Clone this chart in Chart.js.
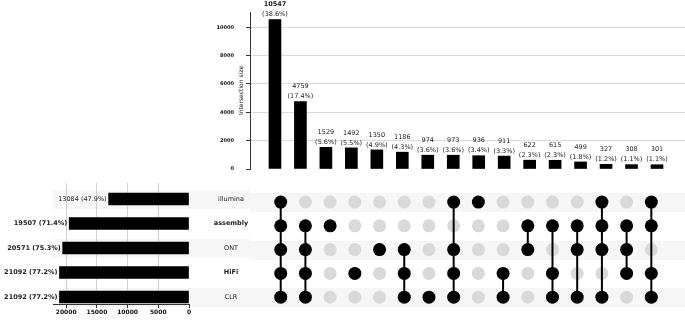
<!DOCTYPE html>
<html>
<head>
<meta charset="utf-8">
<script src="https://cdn.jsdelivr.net/npm/chart.js@4.4.0/dist/chart.umd.min.js"></script>
<style>
  body { margin: 0; background: #fff; }
  #wrap { position: relative; width: 685px; height: 325px; overflow: hidden; }
  canvas { position: absolute; }
</style>
</head>
<body>
<div id="wrap">
  <canvas id="top" width="685" height="180" style="left:0;top:0"></canvas>
  <canvas id="sets" width="250" height="145" style="left:0;top:180px"></canvas>
  <canvas id="matrix" width="435" height="145" style="left:250px;top:180px"></canvas>
</div>
<script>
// set names, top to bottom
var setNames = ['illumina', 'assembly', 'ONT', 'HiFi', 'CLR'];
var setSizes = [13084, 19507, 20571, 21092, 21092];

// intersections, left to right
var interSizes = [10547, 4759, 1529, 1492, 1350, 1186, 974, 973, 936, 911, 622, 615, 499, 327, 308, 301];
var interSets = [
  ['illumina', 'assembly', 'ONT', 'HiFi', 'CLR'],
  ['assembly', 'ONT', 'HiFi', 'CLR'],
  ['assembly'],
  ['HiFi'],
  ['ONT'],
  ['ONT', 'HiFi', 'CLR'],
  ['CLR'],
  ['illumina', 'ONT', 'HiFi', 'CLR'],
  ['illumina'],
  ['HiFi', 'CLR'],
  ['assembly', 'ONT'],
  ['assembly', 'HiFi', 'CLR'],
  ['assembly', 'ONT', 'CLR'],
  ['illumina', 'assembly', 'ONT', 'CLR'],
  ['assembly', 'ONT', 'HiFi'],
  ['illumina', 'assembly', 'HiFi', 'CLR']
];

var interTicks = [0, 2000, 4000, 6000, 8000, 10000];
var setTicks = [0, 5000, 10000, 15000, 20000];

var total = interSizes.reduce(function(a, b) { return a + b; }, 0);

Chart.defaults.font.family = '"DejaVu Sans", sans-serif';
Chart.defaults.color = '#222';

var FONT = '"DejaVu Sans", sans-serif';
var BAND = '#f6f6f6';
var bandRows = [0, 2, 4];

function pct(v) {
  return '(' + (v / total * 100).toFixed(1) + '%)';
}
function plain(v) { return String(v); }

// ---- intersection size bars (top) ----
var topLabels = {
  id: 'topLabels',
  afterDatasetsDraw: function(chart) {
    var ctx = chart.ctx;
    var meta = chart.getDatasetMeta(0);
    ctx.save();
    ctx.fillStyle = '#222';
    ctx.textAlign = 'center';
    ctx.textBaseline = 'middle';
    meta.data.forEach(function(bar, i) {
      ctx.font = (i === 0 ? 'bold ' : '') + '6.5px ' + FONT;
      ctx.fillText(String(interSizes[i]), bar.x, bar.y - 15);
      ctx.font = '6.5px ' + FONT;
      ctx.fillText(pct(interSizes[i]), bar.x, bar.y - 5);
    });
    // y title
    ctx.translate(241, (chart.chartArea.top + chart.chartArea.bottom) / 2);
    ctx.rotate(-Math.PI / 2);
    ctx.font = '6px ' + FONT;
    ctx.fillStyle = '#111';
    ctx.fillText('Intersection size', 0, 0);
    ctx.restore();
  }
};

new Chart(document.getElementById('top'), {
  type: 'bar',
  data: {
    datasets: [{
      data: interSizes.map(function(v, i) { return { x: i, y: v }; }),
      backgroundColor: '#000',
      barThickness: 12
    }]
  },
  options: {
    responsive: false,
    animation: false,
    devicePixelRatio: 1,
    events: [],
    layout: { padding: { top: 12, bottom: 11, left: 0, right: 0 } },
    plugins: { legend: { display: false }, tooltip: { enabled: false } },
    scales: {
      x: { type: 'linear', min: -0.98, max: 16.1, offset: false, display: false },
      y: {
        min: 0,
        max: 11074,
        afterFit: function(s) { s.width = 250; s.paddingTop = 0; s.paddingBottom = 0; },
        afterBuildTicks: function(s) { s.ticks = interTicks.map(function(v) { return { value: v }; }); },
        grid: {
          color: function(c) { return c.tick && c.tick.value === 0 ? 'rgba(0,0,0,0)' : '#dadada'; },
          tickColor: '#333',
          tickLength: 4
        },
        border: { color: '#333', width: 1 },
        ticks: { padding: 12, color: '#111', callback: plain, font: { size: 5, weight: 'bold' } }
      }
    }
  },
  plugins: [topLabels]
});

// ---- set size bars (left) ----
var setDecor = {
  id: 'setDecor',
  beforeDraw: function(chart) {
    var ctx = chart.ctx;
    var y = chart.scales.y;
    ctx.save();
    ctx.fillStyle = BAND;
    bandRows.forEach(function(r) {
      var py = Math.round(y.getPixelForValue(r));
      ctx.fillRect(53, py - 9, chart.width - 53, 19);
    });
    ctx.restore();
  },
  afterDatasetsDraw: function(chart) {
    var ctx = chart.ctx;
    var meta = chart.getDatasetMeta(0);
    ctx.save();
    ctx.fillStyle = '#222';
    ctx.textBaseline = 'middle';
    meta.data.forEach(function(bar, i) {
      ctx.textAlign = 'right';
      ctx.font = (i === 0 ? '' : 'bold ') + '6.5px ' + FONT;
      ctx.fillText(setSizes[i] + ' ' + pct(setSizes[i]), bar.x - 2, bar.y);
      ctx.textAlign = 'center';
      ctx.font = (i === 1 || i === 3 ? 'bold ' : '') + '6.5px ' + FONT;
      ctx.fillText(setNames[i], 231, bar.y);
    });
    ctx.restore();
  }
};

new Chart(document.getElementById('sets'), {
  type: 'bar',
  data: {
    datasets: [{
      data: setSizes.map(function(v, i) { return { x: v, y: i }; }),
      backgroundColor: '#000',
      barThickness: 12
    }]
  },
  options: {
    indexAxis: 'y',
    responsive: false,
    animation: false,
    devicePixelRatio: 1,
    events: [],
    layout: { padding: { top: 3, bottom: 0, left: 53, right: 61 } },
    plugins: { legend: { display: false }, tooltip: { enabled: false } },
    scales: {
      y: { type: 'linear', min: -0.653, max: 4.286, reverse: true, offset: false, display: false },
      x: {
        type: 'linear',
        min: 0,
        max: 22147,
        reverse: true,
        afterFit: function(s) { s.height = 21; },
        afterBuildTicks: function(s) { s.ticks = setTicks.map(function(v) { return { value: v }; }); },
        grid: {
          color: function(c) { return c.tick && c.tick.value === 0 ? 'rgba(0,0,0,0)' : '#cfcfcf'; },
          tickColor: '#333',
          tickLength: 4
        },
        border: { color: '#333', width: 1 },
        ticks: { padding: 1, color: '#111', maxRotation: 0, callback: plain, font: { size: 6, weight: 'bold' } }
      }
    }
  },
  plugins: [setDecor]
});

// ---- membership matrix ----
var greyDots = [], blackDots = [];
var matrixData = [];
interSets.forEach(function(members, i) {
  setNames.forEach(function(name, r) {
    (members.indexOf(name) >= 0 ? blackDots : greyDots).push({ x: i, y: r });
  });
  if (members.length > 1) {
    var rows = members.map(function(m) { return setNames.indexOf(m); });
    matrixData.push({
      type: 'line',
      data: [{ x: i, y: Math.min.apply(null, rows) }, { x: i, y: Math.max.apply(null, rows) }],
      borderColor: '#000',
      borderWidth: 2,
      pointRadius: 0,
      order: 2
    });
  }
});
matrixData.push({ data: greyDots, backgroundColor: '#d9d9d9', borderWidth: 0, pointRadius: 6.5, order: 3 });
matrixData.push({ data: blackDots, backgroundColor: '#000', borderWidth: 0, pointRadius: 6.5, order: 1 });

var matrixBands = {
  id: 'matrixBands',
  beforeDraw: function(chart) {
    var ctx = chart.ctx;
    var y = chart.scales.y;
    ctx.save();
    ctx.fillStyle = BAND;
    bandRows.forEach(function(r) {
      var py = Math.round(y.getPixelForValue(r));
      ctx.fillRect(0, py - 9, chart.width, 19);
    });
    ctx.restore();
  }
};

new Chart(document.getElementById('matrix'), {
  type: 'scatter',
  data: { datasets: matrixData },
  options: {
    responsive: false,
    animation: false,
    devicePixelRatio: 1,
    events: [],
    layout: { padding: { top: 3, bottom: 21, left: 0, right: 0 } },
    plugins: { legend: { display: false }, tooltip: { enabled: false } },
    scales: {
      x: { type: 'linear', min: -0.98, max: 16.1, display: false },
      y: { type: 'linear', min: -0.653, max: 4.286, reverse: true, display: false }
    }
  },
  plugins: [matrixBands]
});
</script>
</body>
</html>
